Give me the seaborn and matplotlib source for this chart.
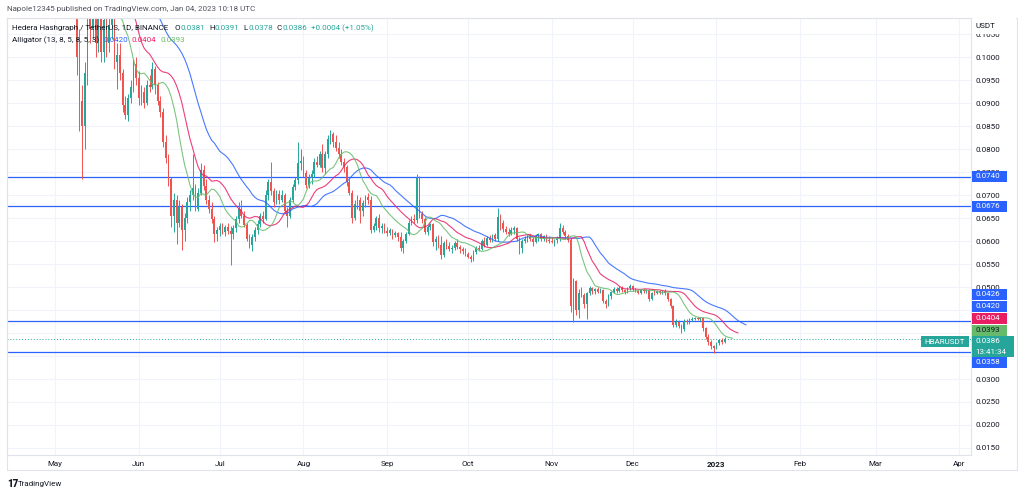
import numpy as np
import pandas as pd
import matplotlib
matplotlib.use("Agg")
import matplotlib.pyplot as plt
from matplotlib.patches import Rectangle
import seaborn as sns

# HBAR/USDT daily candles, 2022-04-25 .. 2023-01-04 (read off the chart;
# the late-April / early-May candles sit above the visible price range)
start_date = "2022-04-25"

opens = [
    .182, .175, .168, .172, .176, .170,  # Apr
    .162, .166, .168, .164, .170, .160, .154, .148, .135, .1000, .0905, .0850, .0965, .1090, .1060, .1140,
    .1030, .1090, .1010, .1080, .1030, .1070, .1110, .0990, .1005, .0965, .0895, .0875, .0910, .0935, .0985,  # May
    .0955, .0910, .0925, .0900, .0940, .0935, .0975, .0940, .0905, .0880, .0815, .0780, .0735, .0655, .0690,
    .0640, .0675, .0625, .0650, .0685, .0700, .0715, .0670, .0705, .0755, .0720, .0690, .0670, .0648, .0615,  # Jun
    .0625, .0632, .0620, .0630, .0622, .0615, .0628, .0648, .0670, .0655, .0635, .0605, .0592, .0608, .0625,
    .0638, .0655, .0648, .0700, .0728, .0708, .0685, .0702, .0690, .0700, .0665, .0655, .0690, .0718, .0732, .0770,  # Jul
    .0775, .0748, .0722, .0738, .0745, .0772, .0765, .0790, .0758, .0790, .0822, .0832, .0815, .0802, .0790,
    .0772, .0760, .0728, .0705, .0650, .0680, .0690, .0665, .0682, .0695, .0690, .0625, .0632, .0650, .0628, .0633,  # Aug
    .0622, .0617, .0624, .0612, .0618, .0608, .0585, .0600, .0615, .0640, .0648, .0645, .0738, .0658, .0648,
    .0620, .0630, .0636, .0598, .0605, .0592, .0570, .0595, .0590, .0582, .0585, .0595, .0588, .0582, .0578,  # Sep
    .0572, .0566, .0560, .0576, .0585, .0582, .0600, .0592, .0606, .0602, .0612, .0604, .0652, .0640, .0626,
    .0620, .0615, .0625, .0628, .0605, .0585, .0600, .0605, .0612, .0605, .0598, .0610, .0615, .0604, .0610, .0603,  # Oct
    .0600, .0598, .0602, .0605, .0628, .0620, .0610, .0602, .0458, .0512, .0450, .0488, .0482, .0462, .0486,
    .0498, .0492, .0495, .0490, .0494, .0470, .0462, .0480, .0490, .0496, .0492, .0497, .0493, .0490, .0498,  # Nov
    .0503, .0496, .0492, .0487, .0493, .0491, .0494, .0475, .0488, .0486, .0491, .0488, .0492, .0486, .0474,
    .0458, .0418, .0424, .0415, .0408, .0426, .0424, .0429, .0431, .0432, .0430, .0432, .0410, .0392, .0380, .0372,  # Dec
    .0368, .0378, .0385, .0381,  # Jan
]
highs = [
    .185, .178, .175, .178, .178, .172,
    .168, .170, .170, .172, .172, .162, .156, .149, .138, .1060, .0940, .0990, .1150, .1180, .1190, .1160,
    .1130, .1140, .1110, .1140, .1090, .1150, .1130, .1030, .1030, .0975, .0915, .0920, .0950, .0995, .1000,
    .0970, .0940, .0935, .0950, .0960, .0990, .0980, .0945, .0915, .0890, .0830, .0790, .0740, .0705, .0700,
    .0690, .0680, .0660, .0695, .0710, .0790, .0725, .0715, .0770, .0765, .0735, .0700, .0685, .0655, .0630,
    .0640, .0640, .0635, .0640, .0632, .0635, .0655, .0685, .0690, .0665, .0640, .0615, .0615, .0630, .0645,
    .0660, .0665, .0710, .0735, .0772, .0715, .0710, .0710, .0710, .0705, .0675, .0695, .0725, .0740, .0815, .0800,
    .0785, .0755, .0745, .0755, .0780, .0785, .0795, .0810, .0795, .0830, .0842, .0838, .0830, .0815, .0800,
    .0780, .0765, .0735, .0710, .0690, .0700, .0695, .0690, .0700, .0705, .0698, .0640, .0655, .0658, .0640, .0640,
    .0630, .0628, .0626, .0622, .0620, .0620, .0605, .0620, .0645, .0655, .0658, .0745, .0742, .0665, .0652,
    .0635, .0640, .0640, .0610, .0612, .0610, .0600, .0605, .0598, .0592, .0600, .0605, .0592, .0588, .0584,
    .0576, .0570, .0580, .0590, .0592, .0605, .0608, .0610, .0612, .0615, .0618, .0672, .0658, .0645, .0632,
    .0628, .0630, .0632, .0630, .0608, .0605, .0610, .0615, .0615, .0608, .0615, .0618, .0618, .0614, .0615, .0610,
    .0608, .0605, .0610, .0640, .0635, .0625, .0615, .0606, .0520, .0515, .0495, .0500, .0486, .0490, .0502,
    .0500, .0498, .0500, .0497, .0496, .0475, .0485, .0492, .0500, .0500, .0502, .0502, .0496, .0500, .0506,
    .0505, .0498, .0494, .0495, .0497, .0496, .0495, .0490, .0495, .0493, .0494, .0494, .0496, .0488, .0476,
    .0460, .0430, .0428, .0420, .0430, .0430, .0432, .0434, .0434, .0434, .0434, .0434, .0412, .0398, .0384, .0375,
    .0380, .0388, .0389, .0391,
]
lows = [
    .172, .165, .165, .168, .168, .160,
    .158, .160, .160, .162, .156, .150, .145, .128, .096, .0840, .0735, .0800, .0940, .1030, .1040, .1000,
    .1010, .0990, .0990, .1000, .1010, .1040, .0975, .0930, .0950, .0880, .0865, .0860, .0900, .0925, .0940,
    .0895, .0895, .0890, .0895, .0925, .0930, .0920, .0895, .0870, .0805, .0770, .0720, .0630, .0620, .0593,
    .0630, .0580, .0600, .0640, .0665, .0690, .0665, .0665, .0700, .0710, .0680, .0660, .0640, .0598, .0600,
    .0610, .0615, .0610, .0615, .0548, .0605, .0620, .0640, .0650, .0630, .0600, .0585, .0578, .0600, .0615,
    .0630, .0640, .0645, .0690, .0700, .0675, .0680, .0680, .0685, .0660, .0630, .0650, .0685, .0710, .0725, .0755,
    .0740, .0715, .0715, .0725, .0740, .0760, .0760, .0750, .0745, .0780, .0810, .0805, .0795, .0780, .0765,
    .0750, .0720, .0700, .0640, .0645, .0670, .0639, .0655, .0675, .0680, .0618, .0620, .0625, .0620, .0618, .0618,
    .0610, .0612, .0605, .0608, .0600, .0578, .0575, .0595, .0612, .0635, .0640, .0640, .0650, .0640, .0615,
    .0612, .0625, .0590, .0580, .0585, .0560, .0565, .0582, .0578, .0575, .0580, .0582, .0575, .0572, .0568,
    .0562, .0555, .0556, .0572, .0578, .0580, .0588, .0590, .0598, .0598, .0600, .0600, .0625, .0620, .0615,
    .0610, .0612, .0615, .0600, .0572, .0575, .0595, .0598, .0600, .0590, .0595, .0600, .0600, .0600, .0598, .0596,
    .0595, .0590, .0595, .0600, .0615, .0605, .0598, .0445, .0424, .0440, .0432, .0478, .0455, .0430, .0482,
    .0485, .0484, .0486, .0486, .0465, .0455, .0458, .0475, .0487, .0488, .0490, .0490, .0485, .0488, .0494,
    .0492, .0490, .0484, .0485, .0488, .0488, .0470, .0472, .0483, .0484, .0485, .0484, .0483, .0470, .0455,
    .0412, .0412, .0410, .0400, .0405, .0420, .0420, .0426, .0428, .0428, .0427, .0405, .0388, .0375, .0366, .0357,
    .0365, .0374, .0376, .0378,
]
closes = [
    .175, .168, .172, .176, .170, .162,
    .166, .168, .164, .170, .160, .154, .148, .135, .1000, .0905, .0850, .0965, .1090, .1060, .1140, .1030,
    .1090, .1010, .1080, .1030, .1070, .1110, .0990, .1005, .0965, .0895, .0875, .0910, .0935, .0985, .0955,
    .0910, .0925, .0900, .0940, .0935, .0975, .0940, .0905, .0880, .0815, .0780, .0735, .0655, .0690, .0640,
    .0675, .0625, .0650, .0685, .0700, .0715, .0670, .0705, .0755, .0720, .0690, .0670, .0648, .0615, .0625,
    .0632, .0620, .0630, .0622, .0615, .0628, .0648, .0670, .0655, .0635, .0605, .0592, .0608, .0625, .0638,
    .0655, .0648, .0700, .0728, .0708, .0685, .0702, .0690, .0700, .0665, .0655, .0690, .0718, .0732, .0770, .0775,
    .0748, .0722, .0738, .0745, .0772, .0765, .0790, .0758, .0790, .0822, .0832, .0815, .0802, .0790, .0772,
    .0760, .0728, .0705, .0650, .0680, .0690, .0665, .0682, .0695, .0690, .0625, .0632, .0650, .0628, .0633, .0622,
    .0617, .0624, .0612, .0618, .0608, .0585, .0600, .0615, .0640, .0648, .0645, .0738, .0658, .0648, .0620,
    .0630, .0636, .0598, .0605, .0592, .0570, .0595, .0590, .0582, .0585, .0595, .0588, .0582, .0578, .0572,
    .0566, .0560, .0576, .0585, .0582, .0600, .0592, .0606, .0602, .0612, .0604, .0652, .0640, .0626, .0620,
    .0615, .0625, .0628, .0605, .0585, .0600, .0605, .0612, .0605, .0598, .0610, .0615, .0604, .0610, .0603, .0600,
    .0598, .0602, .0605, .0628, .0620, .0610, .0602, .0458, .0512, .0450, .0488, .0482, .0462, .0486, .0498,
    .0492, .0495, .0490, .0494, .0470, .0462, .0480, .0490, .0496, .0492, .0497, .0493, .0490, .0498, .0503,
    .0496, .0492, .0487, .0493, .0491, .0494, .0475, .0488, .0486, .0491, .0488, .0492, .0486, .0474, .0458,
    .0418, .0424, .0415, .0408, .0426, .0424, .0429, .0431, .0432, .0430, .0432, .0410, .0392, .0380, .0372, .0368,
    .0378, .0385, .0381, .0386,
]

hline_levels = [0.0740, 0.0676, 0.0426, 0.0358]
last_price = 0.0386
month_starts = ["2022-05-01", "2022-06-01", "2022-07-01", "2022-08-01", "2022-09-01", "2022-10-01",
                "2022-11-01", "2022-12-01", "2023-01-01", "2023-02-01", "2023-03-01", "2023-04-01"]
month_labels = ["May", "Jun", "Jul", "Aug", "Sep", "Oct", "Nov", "Dec", "2023", "Feb", "Mar", "Apr"]

assert len(opens) == len(highs) == len(lows) == len(closes), (len(opens), len(highs), len(lows), len(closes))

UP, DOWN = "#26a69a", "#ef5350"
JAW, TEETH, LIPS = "#2962ff", "#e91e63", "#66bb6a"
HL = "#2962ff"
TXT = "#131722"
GRID = "#f0f3fa"
BORDER = "#e0e3eb"
FS = 5.8
W, H = 1024, 496

sns.set_theme(style="white")
plt.rcParams["font.family"] = ["Roboto", "DejaVu Sans"]

df = pd.DataFrame({
    "date": pd.date_range(start_date, periods=len(closes), freq="D"),
    "open": opens, "high": highs, "low": lows, "close": closes,
})
df["up"] = df["close"] >= df["open"]


def smma(src, n):
    out = np.full(len(src), np.nan)
    out[n - 1] = np.mean(src[:n])
    for i in range(n, len(src)):
        out[i] = (out[i - 1] * (n - 1) + src[i]) / n
    return out


hl2 = ((df["high"] + df["low"]) / 2).to_numpy()
gator = []
for n, shift, col in [(13, 8, JAW), (8, 5, TEETH), (5, 3, LIPS)]:
    g = pd.DataFrame({"date": df["date"] + pd.Timedelta(days=shift), "v": smma(hl2, n)}).dropna()
    gator.append((g, col))

fig = plt.figure(figsize=(W / 100, H / 100), dpi=100)
fig.patch.set_facecolor("white")
ax = fig.add_axes([7 / W, 1 - 455 / H, (971 - 7) / W, (455 - 18) / H])

# grid
for m in month_starts:
    ax.axvline(pd.Timestamp(m), color=GRID, lw=0.8, zorder=0)
yticks = np.arange(0.015, 0.1051, 0.005)
for t in yticks:
    ax.axhline(t, color=GRID, lw=0.8, zorder=0)

# horizontal levels
for lv in hline_levels:
    ax.axhline(lv, color=HL, lw=0.9, zorder=1)
ax.axhline(last_price, color=UP, lw=0.7, ls=(0, (1, 2)), zorder=1)

# candles
for is_up, col in [(True, UP), (False, DOWN)]:
    d = df[df["up"] == is_up]
    ax.vlines(d["date"], d["low"], d["high"], color=col, lw=0.7, zorder=2)
    body = (d["close"] - d["open"]).abs().clip(lower=0.00012)
    ax.bar(d["date"], body, bottom=d[["open", "close"]].min(axis=1), width=0.62,
           color=col, linewidth=0, zorder=3)

# alligator
for g, col in gator:
    sns.lineplot(data=g, x="date", y="v", ax=ax, color=col, lw=0.8, alpha=0.85, zorder=4)

base = pd.Timestamp("2022-05-01")
ax.set_xlim(base - pd.Timedelta(days=17.8), base + pd.Timedelta(days=339.3))
ax.set_ylim(0.013478, 0.10848)
ax.set_xlabel("")
ax.set_ylabel("")

ax.set_xticks([pd.Timestamp(m) for m in month_starts])
ax.set_xticklabels(month_labels)
for lab in ax.get_xticklabels():
    if lab.get_text() == "2023":
        lab.set_fontweight("bold")
# labels hidden behind the price badges on the scale are left blank
covered = {"0.0450", "0.0400", "0.0350"}
ax.set_yticks(yticks)
ax.set_yticklabels(["" if f"{t:.4f}" in covered else f"{t:.4f}" for t in yticks])
ax.yaxis.tick_right()
ax.tick_params(axis="x", length=0, pad=4, labelsize=FS, labelcolor=TXT)
ax.tick_params(axis="y", length=0, pad=3.5, labelsize=FS, labelcolor=TXT)
for s in ax.spines.values():
    s.set_color(BORDER)
    s.set_linewidth(0.8)

# outer frame
fig.patches.append(Rectangle((7 / W, 1 - 470 / H), (1017 - 7) / W, (470 - 18) / H,
                             transform=fig.transFigure, fill=False, ec=BORDER, lw=0.8, zorder=1))


def ftext(x, y, s, **kw):
    kw.setdefault("fontsize", FS)
    kw.setdefault("va", "center")
    return fig.text(x / W, 1 - y / H, s, **kw)


def box(x0, y0, x1, y1, fc, lines, tc="white"):
    fig.patches.append(Rectangle((x0 / W, 1 - y1 / H), (x1 - x0) / W, (y1 - y0) / H,
                                 transform=fig.transFigure, fc=fc, ec="none", zorder=5))
    step = (y1 - y0) / len(lines)
    for i, s in enumerate(lines):
        ftext(x0 + 3, y0 + step * (i + 0.5), s, color=tc, ha="left", zorder=6)


def row(x, y, parts):
    r = fig.canvas.get_renderer()
    for s, c, gap in parts:
        t = ftext(x, y, s, color=c, ha="left", zorder=6)
        x += t.get_window_extent(r).width + gap


ftext(7, 9, "Napole12345 published on TradingView.com, Jan 04, 2023 10:18 UTC", color="#50535e", ha="left")
row(12, 28, [("Hedera Hashgraph / TetherUS, 1D, BINANCE", TXT, 6),
             ("O", TXT, 0.3), ("0.0381", UP, 4), ("H", TXT, 0.3), ("0.0391", UP, 4),
             ("L", TXT, 0.3), ("0.0378", UP, 4), ("C", TXT, 0.3), ("0.0386", UP, 4),
             ("+0.0004 (+1.05%)", UP, 0)])
row(12, 40, [("Alligator (13, 8, 5, 8, 5, 3)", TXT, 4), ("0.0420", JAW, 4),
             ("0.0404", TEETH, 4), ("0.0393", LIPS, 0)])

# right scale labels
fig.patches.append(Rectangle((972 / W, 1 - 33.5 / H), 44 / W, 15 / H, transform=fig.transFigure,
                             fc="white", ec="none", zorder=5))
ftext(976, 26, "USDT", color=TXT, ha="left", zorder=6)
box(972, 171, 1007, 182, HL, ["0.0740"])
box(972, 201, 1007, 212, HL, ["0.0676"])
box(972, 289, 1007, 300, HL, ["0.0426"])
box(972, 301, 1007, 312, HL, ["0.0420"])
box(972, 313, 1007, 324, TEETH, ["0.0404"])
box(972, 325, 1007, 336, LIPS, ["0.0393"], tc=TXT)
box(972, 336, 1014, 357, UP, ["0.0386", "13:41:34"])
box(972, 357, 1007, 368, HL, ["0.0358"])
box(921, 336, 969, 347, UP, ["HBARUSDT"])

# footer logo
ftext(7, 484, "17", color=TXT, ha="left", fontweight="heavy", fontsize=7)
ftext(18, 484, "TradingView", color=TXT, ha="left", fontsize=FS)

fig.savefig("out.png", dpi=100, facecolor="white")
